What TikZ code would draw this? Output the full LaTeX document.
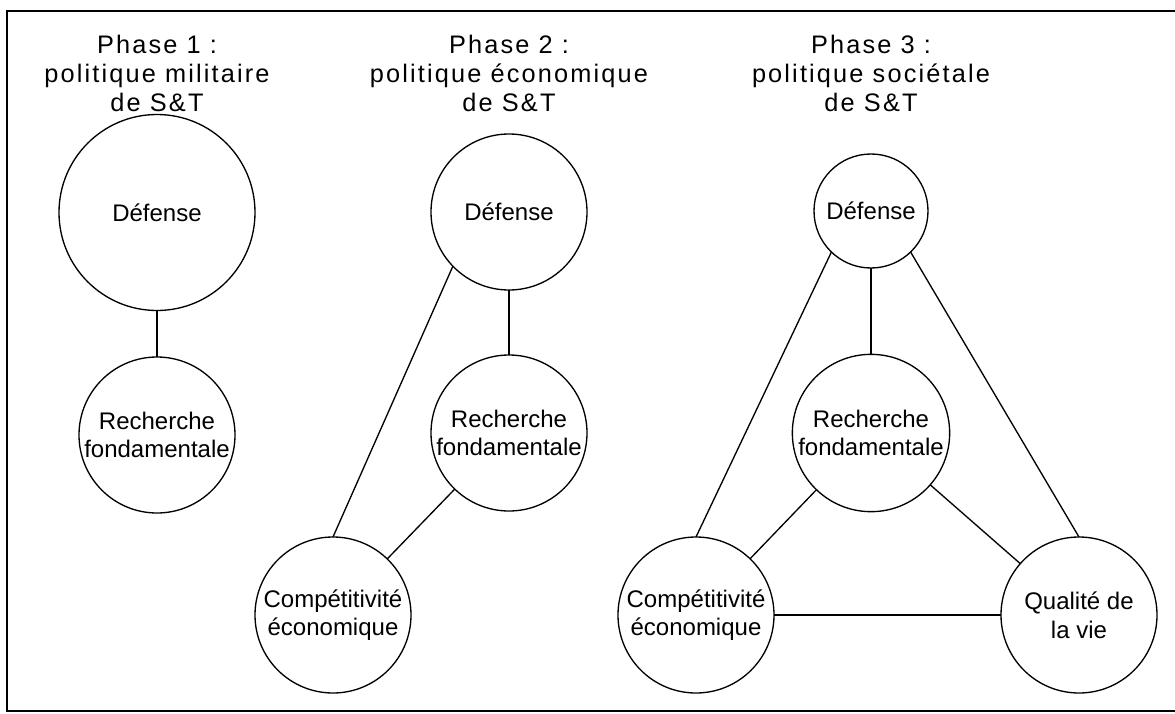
\documentclass[tikz,border=0pt]{standalone}
\usepackage{fontspec}
\setmainfont{Liberation Sans}
\newfontfamily\titrefont[LetterSpace=8.5]{Liberation Sans}
\begin{document}
\begin{tikzpicture}[x=0.75pt,y=-0.75pt,
  cercle/.style={circle,draw,line width=1pt,inner sep=0pt,outer sep=0pt,align=center,
    font=\fontsize{18}{21.5}\selectfont,minimum size=117pt},
  titre/.style={inner sep=0pt,align=center,font=\titrefont\fontsize{19}{21.5}\selectfont}]
\useasboundingbox (0,0) rectangle (1175,714);
\draw [line width=1.5pt] (1175,10.5) -- (7,10.5) -- (7,711) -- (1175,711);
\node[titre] (T1) at (157,73.5) {Phase 1 :\\politique militaire\\de S\&T};
\node[titre] (T2) at (509,73.5) {Phase 2 :\\politique économique\\de S\&T};
\node[titre] (T3) at (871,73.5) {Phase 3 :\\politique sociétale\\de S\&T};
\node[cercle,minimum size=147pt] (D1) at (157,212.5) {Défense};
\node[cercle] (R1) at (157,435) {Recherche\\fondamentale};
\node[cercle] (D2) at (509,212) {Défense};
\node[cercle] (R2) at (509,433) {Recherche\\fondamentale};
\node[cercle] (C2) at (333,615) {Compétitivité\\économique};
\node[cercle,minimum size=85.5pt] (D3) at (871,211) {Défense};
\node[cercle,minimum size=118pt] (R3) at (871,433) {Recherche\\fondamentale};
\node[cercle] (C3) at (696,615) {Compétitivité\\économique};
\node[cercle] (Q3) at (1079,615) {Qualité de\\la vie};
\draw [line width=1pt] (D1) to (R1);
\draw [line width=1pt] (D2) to (R2);
\draw [line width=1pt] (D2.224) to (C2.north);
\draw [line width=1pt] (R2) to (C2);
\draw [line width=1pt] (D3) to (R3);
\draw [line width=1pt] (D3.226) to (C3.north);
\draw [line width=1pt] (D3.314) to (Q3.north);
\draw [line width=1pt] (R3) to (C3);
\draw [line width=1pt] (R3) to (Q3);
\draw [line width=1pt] (C3) to (Q3);
\end{tikzpicture}
\end{document}
